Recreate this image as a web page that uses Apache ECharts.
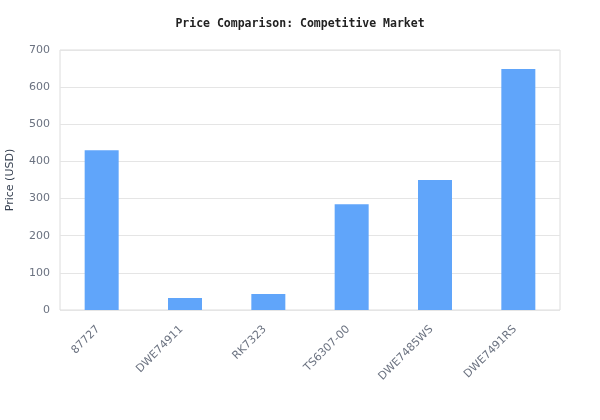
<!DOCTYPE html>
<html><head><meta charset="utf-8">
<script src="https://cdn.jsdelivr.net/npm/echarts@6/dist/echarts.min.js"></script>
<style>html,body{margin:0;padding:0;background:#fff}#c{width:600px;height:420px}</style>
</head><body><div id="c"></div>
<script>
const categories = ['87727','DWE74911','RK7323','TS6307-00','DWE7485WS','DWE7491RS'];
const prices = [430, 32, 43, 285, 350, 649];
const yTicks = {min:0, max:700, interval:100};

const chart = echarts.init(document.getElementById('c'), null, {renderer:'canvas'});
chart.setOption({
  animation:false,
  title:{text:'Price Comparison: Competitive Market', left:'center', top:13,
    textStyle:{fontFamily:'DejaVu Sans Mono', fontSize:11.5, fontWeight:'bold', color:'#222'}},
  grid:{left:60, right:40, top:50, bottom:110, show:true, borderColor:'#dcdcdc', borderWidth:1,
    outerBoundsMode:'none', containLabel:false},
  xAxis:{type:'category', data:categories,
    axisLine:{show:false}, axisTick:{show:false},
    axisLabel:{rotate:45, color:'#6b7280', fontSize:11, fontFamily:'DejaVu Sans', margin:14, interval:0,
      padding:[0,5,0,0]}},
  yAxis:{type:'value', min:yTicks.min, max:yTicks.max, interval:yTicks.interval,
    name:'Price (USD)', nameLocation:'middle', nameGap:44, nameRotate:90,
    nameTextStyle:{color:'#374151', fontSize:11, fontFamily:'DejaVu Sans'},
    axisLine:{show:false}, axisTick:{show:false},
    axisLabel:{color:'#6b7280', fontSize:11, fontFamily:'DejaVu Sans', margin:10},
    splitLine:{lineStyle:{color:'#e5e5e5'}}},
  series:[{type:'bar', data:prices, barWidth:34, itemStyle:{color:'#60a5fa'}}]
});
</script></body></html>
